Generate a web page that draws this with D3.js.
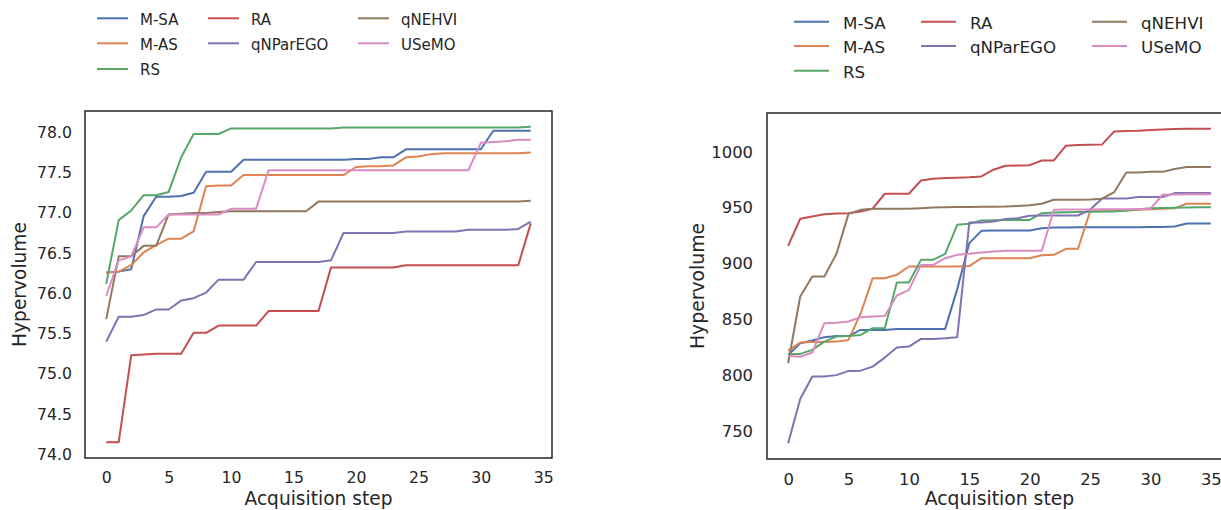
<!DOCTYPE html>
<html>
<head>
<meta charset="utf-8">
<script src="https://cdn.jsdelivr.net/npm/d3@7"></script>
<style>
  html, body { margin: 0; padding: 0; background: #fff; }
  svg { display: block; }
  text { font-family: "DejaVu Sans", sans-serif; fill: #262626; }
</style>
</head>
<body>
<svg id="chart" width="1221" height="510"></svg>
<script>
// Method names, in plotting order
const methods = ["M-SA", "M-AS", "RS", "RA", "qNParEGO", "qNEHVI", "USeMO"];
const colors = ["#4c72b0", "#dd8452", "#55a868", "#c44e52", "#8172b3", "#937860", "#da8bc3"];

// Left panel: hypervolume per acquisition step (steps 0..34)
const leftMSA = [76.26, 76.27, 76.30, 76.96, 77.20, 77.20, 77.21, 77.25, 77.51, 77.51, 77.51,
  77.66, 77.66, 77.66, 77.66, 77.66, 77.66, 77.66, 77.66, 77.66, 77.67, 77.67, 77.69, 77.69,
  77.79, 77.79, 77.79, 77.79, 77.79, 77.79, 77.79, 78.02, 78.02, 78.02, 78.02];
const leftMAS = [76.26, 76.27, 76.35, 76.51, 76.60, 76.68, 76.68, 76.77, 77.33, 77.34, 77.34,
  77.47, 77.47, 77.47, 77.47, 77.47, 77.47, 77.47, 77.47, 77.47, 77.57, 77.58, 77.58, 77.59,
  77.69, 77.70, 77.73, 77.74, 77.74, 77.74, 77.74, 77.74, 77.74, 77.74, 77.75];
const leftRS = [76.12, 76.91, 77.03, 77.22, 77.22, 77.26, 77.69, 77.98, 77.98, 77.98,
  78.05, 78.05, 78.05, 78.05, 78.05, 78.05, 78.05, 78.05, 78.05, 78.06, 78.06, 78.06, 78.06,
  78.06, 78.06, 78.06, 78.06, 78.06, 78.06, 78.06, 78.06, 78.06, 78.06, 78.06, 78.07];
const leftRA = [74.15, 74.15, 75.23, 75.24, 75.25, 75.25, 75.25, 75.51, 75.51, 75.60, 75.60,
  75.60, 75.60, 75.78, 75.78, 75.78, 75.78, 75.78, 76.32, 76.32, 76.32, 76.32, 76.32, 76.32,
  76.35, 76.35, 76.35, 76.35, 76.35, 76.35, 76.35, 76.35, 76.35, 76.35, 76.87];
const leftQNParEGO = [75.40, 75.71, 75.71, 75.73, 75.80, 75.80, 75.91, 75.94, 76.01, 76.17,
  76.17, 76.17, 76.39, 76.39, 76.39, 76.39, 76.39, 76.39, 76.41, 76.75, 76.75, 76.75, 76.75,
  76.75, 76.77, 76.77, 76.77, 76.77, 76.77, 76.79, 76.79, 76.79, 76.79, 76.80, 76.89];
const leftQNEHVI = [75.68, 76.46, 76.46, 76.59, 76.59, 76.98, 76.99, 77.00, 77.00, 77.01,
  77.02, 77.02, 77.02, 77.02, 77.02, 77.02, 77.02, 77.14, 77.14, 77.14, 77.14, 77.14, 77.14,
  77.14, 77.14, 77.14, 77.14, 77.14, 77.14, 77.14, 77.14, 77.14, 77.14, 77.14, 77.15];
const leftUSeMO = [75.97, 76.41, 76.46, 76.82, 76.82, 76.98, 76.98, 76.98, 76.98, 76.98,
  77.05, 77.05, 77.05, 77.53, 77.53, 77.53, 77.53, 77.53, 77.53, 77.53, 77.53, 77.53, 77.53,
  77.53, 77.53, 77.53, 77.53, 77.53, 77.53, 77.53, 77.87, 77.88, 77.89, 77.91, 77.91];

// Right panel: hypervolume per acquisition step (steps 0..35)
const rightMSA = [818, 828.5, 831, 834, 835, 835, 840.5, 840.5, 840.5, 841.4, 841.4, 841.4,
  841.4, 841.4, 877, 918.2, 929.2, 929.5, 929.5, 929.5, 929.5, 931.6, 932.2, 932.2, 932.3,
  932.3, 932.3, 932.4, 932.4, 932.5, 932.6, 932.6, 933, 935.8, 935.8, 935.8];
const rightMAS = [822, 829.2, 829.6, 829.6, 830, 831.5, 855, 886.8, 886.8, 889.8, 897.3,
  897.3, 897.3, 897.3, 897.3, 897.6, 904.7, 904.7, 904.7, 904.7, 904.7, 907.4, 907.7, 913.1,
  913.1, 946.5, 946.8, 947, 947.5, 948, 948.5, 949, 949.5, 953.4, 953.4, 953.4];
const rightRS = [819, 819, 822.6, 830, 834.5, 835, 836, 842, 842, 882.9, 883, 903.2, 903.2,
  908.6, 934.6, 935.5, 938.4, 938.6, 938.8, 939, 939, 945, 945.6, 945.8, 946, 946.2, 946.4,
  946.5, 947.5, 948.5, 949.5, 949.7, 949.9, 950.1, 950.3, 950.4];
const rightRA = [915.8, 940, 942, 944, 944.7, 945, 946.5, 949, 962.4, 962.4, 962.4, 974.3,
  975.8, 976.4, 976.8, 977.2, 977.9, 983.9, 987.5, 987.8, 988, 992.2, 992.2, 1005.4, 1006,
  1006.2, 1006.6, 1018.2, 1018.5, 1018.8, 1019.5, 1020, 1020.3, 1020.5, 1020.6, 1020.6];
const rightQNParEGO = [739, 778.7, 798.7, 798.7, 800, 803.8, 804, 807.6, 815.7, 824.7, 825.6,
  832.4, 832.4, 833, 834, 936.6, 936.6, 937.5, 939.7, 940.5, 942.7, 942.9, 942.9, 942.9,
  942.9, 948, 958.2, 958.2, 958.2, 959.4, 959.4, 959.4, 963, 963, 963, 963];
const rightQNEHVI = [810.6, 870.4, 888.3, 888.3, 908.6, 944.4, 948, 949, 949, 949, 949,
  949.5, 950, 950.4, 950.5, 950.6, 950.7, 950.8, 951, 951.5, 952.2, 953.4, 957, 957, 957,
  957.2, 958, 963.9, 981.5, 981.5, 982, 982, 984.5, 986.3, 986.3, 986.3];
const rightUSeMO = [817.2, 816.5, 820.2, 846.5, 847, 848, 851.9, 852.5, 853, 871.3, 876.3,
  898.7, 898.7, 904.7, 907.7, 908.6, 909.8, 910.7, 911.3, 911.3, 911.3, 911.3, 948, 948.2,
  948.3, 948.4, 948.5, 948.5, 948.6, 948.7, 948.8, 961.5, 961.8, 962, 962, 962];

// Tick labels
const xTicks = [0, 5, 10, 15, 20, 25, 30, 35];
const leftYTicks = [74.0, 74.5, 75.0, 75.5, 76.0, 76.5, 77.0, 77.5, 78.0];
const rightYTicks = [750, 800, 850, 900, 950, 1000];

const svg = d3.select("#chart");

function drawPanel(p) {
  const g = svg.append("g");
  const x = d3.scaleLinear().domain(p.xDomain).range([p.left, p.right]);
  const y = d3.scaleLinear().domain(p.yDomain).range([p.bottom, p.top]);

  // clip so lines stay inside the axes box
  const clipId = "clip-" + p.id;
  svg.append("clipPath").attr("id", clipId).append("rect")
    .attr("x", p.left).attr("y", p.top)
    .attr("width", p.right - p.left).attr("height", p.bottom - p.top);

  const line = d3.line().x((d, i) => x(i)).y(d => y(d));
  const lines = g.append("g").attr("clip-path", `url(#${clipId})`);
  p.series.forEach((s, k) => {
    lines.append("path")
      .attr("d", line(s))
      .attr("fill", "none")
      .attr("stroke", colors[k])
      .attr("stroke-width", 2)
      .attr("stroke-linejoin", "round")
      .attr("stroke-linecap", "butt");
  });

  // axes (no tick marks)
  const xAxis = g.append("g").attr("transform", `translate(0,${p.bottom})`)
    .call(d3.axisBottom(x).tickValues(xTicks).tickSize(0).tickPadding(14).tickFormat(d3.format("d")));
  const yAxis = g.append("g").attr("transform", `translate(${p.left},0)`)
    .call(d3.axisLeft(y).tickValues(p.yTicks).tickSize(0).tickPadding(p.yPad).tickFormat(d3.format(p.yFmt)));
  [xAxis, yAxis].forEach(a => {
    a.select(".domain").remove();
    a.selectAll("text").style("font-family", "DejaVu Sans").style("font-size", p.tickFont + "px").attr("fill", "#262626");
  });

  // frame
  g.append("rect")
    .attr("x", p.left).attr("y", p.top)
    .attr("width", p.right - p.left).attr("height", p.bottom - p.top)
    .attr("fill", "none").attr("stroke", "#262626").attr("stroke-width", 1.5);

  // axis titles, centred on the axes box
  g.append("text")
    .attr("x", (p.left + p.right) / 2)
    .attr("y", 505)
    .attr("text-anchor", "middle")
    .style("font-size", p.labelFont + "px")
    .text("Acquisition step");
  g.append("text")
    .attr("transform", `translate(${p.yLabelX},${(p.top + p.bottom) / 2}) rotate(-90)`)
    .attr("text-anchor", "middle")
    .style("font-size", p.labelFont + "px")
    .text("Hypervolume");

  // legend, three columns filled column by column
  const lg = g.append("g");
  const layout = [[0, 0], [0, 1], [0, 2], [1, 0], [1, 1], [2, 0], [2, 1]];
  methods.forEach((m, k) => {
    const [c, r] = layout[k];
    const lx = p.legCols[c];
    const ly = p.legRows[r];
    lg.append("line")
      .attr("x1", lx).attr("x2", lx + p.legLine)
      .attr("y1", ly).attr("y2", ly)
      .attr("stroke", colors[k]).attr("stroke-width", 2);
    lg.append("text")
      .attr("x", lx + p.legLine + p.legGap)
      .attr("y", ly + p.legFont * 0.42)
      .style("font-size", p.legFont + "px")
      .text(m);
  });
}

drawPanel({
  id: "left",
  left: 85, right: 552, top: 111, bottom: 458,
  xDomain: [-1.7, 35.7], yDomain: [73.954, 78.266],
  yTicks: leftYTicks, yFmt: ".1f", yPad: 13, tickFont: 15.7,
  labelFont: 18.6, yLabelX: 26,
  series: [leftMSA, leftMAS, leftRS, leftRA, leftQNParEGO, leftQNEHVI, leftUSeMO],
  legCols: [97, 208, 358], legRows: [18.3, 43.3, 69], legLine: 31, legGap: 12, legFont: 15
});

drawPanel({
  id: "right",
  left: 767, right: 1232, top: 113, bottom: 459,
  xDomain: [-1.75, 36.75], yDomain: [724.9, 1034.7],
  yTicks: rightYTicks, yFmt: "d", yPad: 14, tickFont: 16.4,
  labelFont: 18.8, yLabelX: 704,
  series: [rightMSA, rightMAS, rightRS, rightRA, rightQNParEGO, rightQNEHVI, rightUSeMO],
  legCols: [794, 921, 1092], legRows: [21.7, 46, 70.7], legLine: 35, legGap: 14, legFont: 16.7
});
</script>
</body>
</html>
